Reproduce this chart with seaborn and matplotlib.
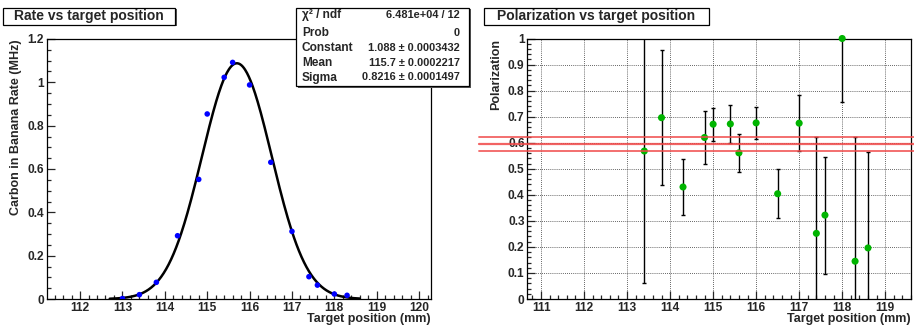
import numpy as np
import pandas as pd
import seaborn as sns
import matplotlib.pyplot as plt
from matplotlib.patches import Rectangle
from matplotlib.ticker import MultipleLocator, FormatStrFormatter

# rate vs target position
rate_x = [113.0, 113.4, 113.8, 114.3, 114.8, 115.0, 115.4, 115.6, 116.0, 116.5, 117.0, 117.4, 117.6, 118.0, 118.3]
rate_y = [0.002, 0.020, 0.077, 0.292, 0.552, 0.854, 1.023, 1.092, 0.988, 0.631, 0.312, 0.103, 0.064, 0.023, 0.017]

# gaussian fit results (from stats box)
fit_const = 1.088
fit_mean = 115.7
fit_sigma = 0.8216
fit_range = (112.7, 118.6)
stats_names = ["\u03c7\u00b2 / ndf", "Prob", "Constant", "Mean", "Sigma"]
stats_vals = ["6.481e+04 / 12", "0", "1.088 \u00b1 0.0003432", "115.7 \u00b1 0.0002217", "0.8216 \u00b1 0.0001497"]

# polarization vs target position
pol_x = [113.4, 113.8, 114.3, 114.8, 115.0, 115.4, 115.6, 116.0, 116.5, 117.0, 117.4, 117.6, 118.0, 118.3, 118.6]
pol_y = [0.568, 0.696, 0.430, 0.620, 0.671, 0.672, 0.561, 0.676, 0.404, 0.675, 0.252, 0.322, 1.000, 0.145, 0.196]
pol_err = [0.507, 0.258, 0.108, 0.101, 0.064, 0.073, 0.074, 0.060, 0.094, 0.107, 0.368, 0.225, 0.243, 0.475, 0.370]
pol_avg = 0.595
pol_avg_err = 0.027

df_rate = pd.DataFrame({'x': rate_x, 'y': rate_y})
df_pol = pd.DataFrame({'x': pol_x, 'y': pol_y, 'err': pol_err})
xf = np.linspace(fit_range[0], fit_range[1], 400)
df_fit = pd.DataFrame({'x': xf, 'y': fit_const * np.exp(-0.5 * ((xf - fit_mean) / fit_sigma) ** 2)})

sns.set_style("ticks")
plt.rcParams['font.family'] = ['Liberation Sans', 'DejaVu Sans']
plt.rcParams['font.weight'] = 'bold'
plt.rcParams['axes.labelweight'] = 'bold'
plt.rcParams['xtick.direction'] = 'in'
plt.rcParams['ytick.direction'] = 'in'

W, H = 914, 326
fig = plt.figure(figsize=(9.14, 3.26), dpi=100)

def fx(px):
    return px / W

def fy(py):
    return 1 - py / H

ax1 = fig.add_axes([fx(47), fy(299), fx(431) - fx(47), fy(39) - fy(299)])
ax2 = fig.add_axes([fx(527.3), fy(299), fx(911) - fx(527.3), fy(38.5) - fy(299)])

# left panel
sns.lineplot(data=df_fit, x='x', y='y', ax=ax1, color='black', lw=1.8, zorder=3)
sns.scatterplot(data=df_rate, x='x', y='y', ax=ax1, color='#0000ff', s=16, edgecolor='none', zorder=4)
ax1.set_xlim(111.22, 120.28)
ax1.set_ylim(0, 1.2)
ax1.xaxis.set_major_locator(MultipleLocator(1))
ax1.xaxis.set_minor_locator(MultipleLocator(0.2))
ax1.yaxis.set_major_locator(MultipleLocator(0.2))
ax1.yaxis.set_minor_locator(MultipleLocator(0.05))
ax1.set_xlabel('Target position (mm)', loc='right', fontsize=9)
ax1.set_ylabel('Carbon in Banana Rate (MHz)', loc='top', fontsize=9)
ax1.xaxis.set_label_coords(1.0, -0.053)
ax1.yaxis.set_label_coords(-0.065, 1.0)

# right panel
ax2.grid(True, which='major', color='black', ls=(0, (1, 1.5)), lw=0.6, alpha=0.8)
ax2.errorbar(df_pol['x'], df_pol['y'], yerr=df_pol['err'], fmt='none', ecolor='black',
             elinewidth=1.0, capsize=1.2, capthick=1.0, zorder=3)
sns.scatterplot(data=df_pol, x='x', y='y', ax=ax2, color='#00b400', s=26, edgecolor='none',
                zorder=4, clip_on=False)
for yv, lw in [(pol_avg + pol_avg_err, 1.3), (pol_avg, 1.6), (pol_avg - pol_avg_err, 1.3)]:
    ax2.axhline(yv, xmin=-0.126, xmax=1.01, color='#f04848', lw=lw, alpha=0.85, clip_on=False, zorder=5)
ax2.set_xlim(110.68, 119.6)
ax2.set_ylim(0, 1)
ax2.xaxis.set_major_locator(MultipleLocator(1))
ax2.xaxis.set_minor_locator(MultipleLocator(0.2))
ax2.yaxis.set_major_locator(MultipleLocator(0.1))
ax2.yaxis.set_minor_locator(MultipleLocator(0.02))
ax2.set_xlabel('Target position (mm)', loc='right', fontsize=9)
ax2.set_ylabel('Polarization', loc='top', fontsize=9)
ax2.xaxis.set_label_coords(1.0, -0.053)
ax2.yaxis.set_label_coords(-0.066, 1.0)

for ax in (ax1, ax2):
    ax.yaxis.set_major_formatter(FormatStrFormatter('%g'))
    ax.xaxis.set_major_formatter(FormatStrFormatter('%g'))
    ax.tick_params(which='major', length=6, width=0.9, labelsize=8.6, pad=2)
    ax.tick_params(which='minor', length=3, width=0.9)
    for sp in ax.spines.values():
        sp.set_visible(True)
        sp.set_linewidth(0.9)
        sp.set_color('black')
    for lab in ax.get_xticklabels() + ax.get_yticklabels():
        lab.set_fontweight('bold')

# title boxes
def title_box(x0, x1, y0, y1, text):
    fig.add_artist(Rectangle((fx(x0 + 1.5), fy(y1 + 1.5)), fx(x1 - x0), fy(y0) - fy(y1),
                             transform=fig.transFigure, facecolor='#555555', edgecolor='none'))
    fig.add_artist(Rectangle((fx(x0), fy(y1)), fx(x1 - x0), fy(y0) - fy(y1),
                             transform=fig.transFigure, facecolor='white', edgecolor='black', lw=0.9))
    fig.text(fx((x0 + x1) / 2), fy((y0 + y1) / 2), text, ha='center', va='center',
             fontsize=10, fontweight='bold')

title_box(3, 175, 8, 24.5, 'Rate vs target position')
title_box(484, 708.5, 8, 24.5, 'Polarization vs target position')

# stats box
fig.add_artist(Rectangle((fx(297.5), fy(87.5)), fx(173), fy(8) - fy(86),
                         transform=fig.transFigure, facecolor='#555555', edgecolor='none', zorder=10))
fig.add_artist(Rectangle((fx(296), fy(86)), fx(173), fy(8) - fy(86),
                         transform=fig.transFigure, facecolor='white', edgecolor='black', lw=0.9, zorder=11))
row_y = [15, 32.5, 48, 62.7, 77.5]
for name, val, ry in zip(stats_names, stats_vals, row_y):
    fig.text(fx(302), fy(ry), name, ha='left', va='center', fontsize=8.6, fontweight='bold', zorder=12)
    fig.text(fx(460), fy(ry), val, ha='right', va='center', fontsize=7.9, fontweight='bold', zorder=12)

fig.savefig('out.png', dpi=100)
